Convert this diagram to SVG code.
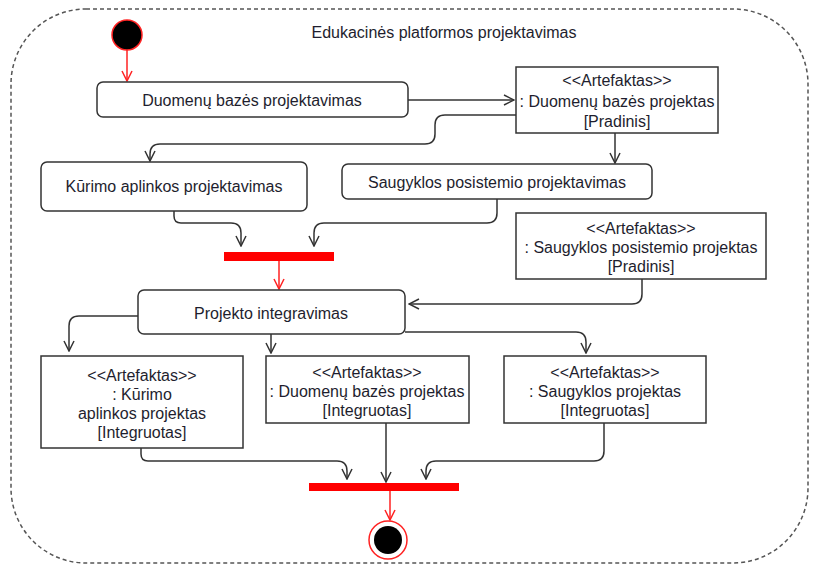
<svg xmlns="http://www.w3.org/2000/svg" width="813" height="566" viewBox="0 0 813 566">
<defs>
<style>
text{font-family:"Liberation Sans",Arial,sans-serif;font-size:16px;fill:#1e1e2e;text-anchor:middle;dominant-baseline:central}
.act{fill:#fff;stroke:#333;stroke-width:1.5}
.art{fill:#fff;stroke:#333;stroke-width:1.5}
.c{fill:none;stroke:#333;stroke-width:1.5;marker-end:url(#ah)}
.r{fill:none;stroke:#f22;stroke-width:1.5;marker-end:url(#rh)}
.bar{fill:#f00}
</style>
<marker id="ah" viewBox="0 0 12 12" refX="11" refY="6" markerWidth="12" markerHeight="12" markerUnits="userSpaceOnUse" orient="auto">
<path d="M1,1 L11,6 L1,11" fill="none" stroke="#333" stroke-width="1.5"/>
</marker>
<marker id="rh" viewBox="0 0 12 12" refX="11" refY="6" markerWidth="12" markerHeight="12" markerUnits="userSpaceOnUse" orient="auto">
<path d="M1,1 L11,6 L1,11" fill="none" stroke="#f22" stroke-width="1.5"/>
</marker>
</defs>
<rect width="813" height="566" fill="#fff"/>
<g id="frame">
<rect x="11" y="9" width="797" height="554" rx="75" ry="75" fill="none" stroke="#555" stroke-width="1.5" stroke-dasharray="4 3"/>
<text x="444" y="32">Edukacinės platformos projektavimas</text>
</g>
<g id="connectors">
<path class="r" d="M127,50 V81"/>
<path class="c" d="M408,100 H514"/>
<path class="c" d="M516,115 H445 Q435,115 435,125 V134 Q435,144 425,144 H160 Q150,144 150,154 V161"/>
<path class="c" d="M615,133 V163"/>
<path class="c" d="M174,211 V216 Q174,223 181,223 H231 Q241,223 241,233 V246"/>
<path class="c" d="M497,199 V213 Q497,223 487,223 H324 Q314,223 314,233 V246"/>
<path class="r" d="M279,261 V289"/>
<path class="c" d="M642,279 V294 Q642,304 632,304 H409"/>
<path class="c" d="M138,316 H79 Q69,316 69,326 V351"/>
<path class="c" d="M271,334 V353"/>
<path class="c" d="M405,332 H576 Q586,332 586,342 V353"/>
<path class="c" d="M141,448 V454 Q141,461 148,461 H337 Q347,461 347,471 V479"/>
<path class="c" d="M386,423 V482"/>
<path class="c" d="M604,423 V451 Q604,461 594,461 H436 Q426,461 426,471 V479"/>
<path class="r" d="M390,491 V520"/>
</g>
<g id="start">
<circle cx="127" cy="35" r="15" fill="#000" stroke="#f22" stroke-width="1.5"/>
</g>
<g id="act-db">
<rect class="act" x="97" y="82" width="311" height="35" rx="6"/>
<text x="252" y="100">Duomenų bazės projektavimas</text>
</g>
<g id="art-db-pradinis">
<rect class="art" x="516" y="67" width="202" height="66"/>
<text x="617" y="80">&lt;&lt;Artefaktas&gt;&gt;</text>
<text x="617" y="101">: Duomenų bazės projektas</text>
<text x="617" y="121">[Pradinis]</text>
</g>
<g id="act-kurimo">
<rect class="act" x="41" y="162" width="266" height="49" rx="6"/>
<text x="174" y="186">Kūrimo aplinkos projektavimas</text>
</g>
<g id="act-saugyklos">
<rect class="act" x="342" y="164" width="310" height="35" rx="6"/>
<text x="497" y="182">Saugyklos posistemio projektavimas</text>
</g>
<g id="join1">
<rect class="bar" x="224" y="252" width="110" height="9"/>
</g>
<g id="art-saug-pradinis">
<rect class="art" x="516" y="213" width="250" height="66"/>
<text x="641" y="228">&lt;&lt;Artefaktas&gt;&gt;</text>
<text x="641" y="247">: Saugyklos posistemio projektas</text>
<text x="641" y="266">[Pradinis]</text>
</g>
<g id="act-integr">
<rect class="act" x="138" y="290" width="267" height="44" rx="6"/>
<text x="271" y="313">Projekto integravimas</text>
</g>
<g id="art-kurimo-integr">
<rect class="art" x="41" y="356" width="202" height="92"/>
<text x="142" y="375">&lt;&lt;Artefaktas&gt;&gt;</text>
<text x="142" y="394">: Kūrimo</text>
<text x="142" y="413">aplinkos projektas</text>
<text x="142" y="432">[Integruotas]</text>
</g>
<g id="art-db-integr">
<rect class="art" x="266" y="356" width="203" height="67"/>
<text x="367" y="372">&lt;&lt;Artefaktas&gt;&gt;</text>
<text x="367" y="391">: Duomenų bazės projektas</text>
<text x="367" y="410">[Integruotas]</text>
</g>
<g id="art-saug-integr">
<rect class="art" x="504" y="356" width="202" height="67"/>
<text x="605" y="372">&lt;&lt;Artefaktas&gt;&gt;</text>
<text x="605" y="391">: Saugyklos projektas</text>
<text x="605" y="410">[Integruotas]</text>
</g>
<g id="join2">
<rect class="bar" x="309" y="483" width="150" height="8"/>
</g>
<g id="end">
<circle cx="388" cy="540" r="19" fill="#fff" stroke="#f22" stroke-width="1.5"/>
<circle cx="388" cy="540" r="14" fill="#000"/>
</g>
</svg>
